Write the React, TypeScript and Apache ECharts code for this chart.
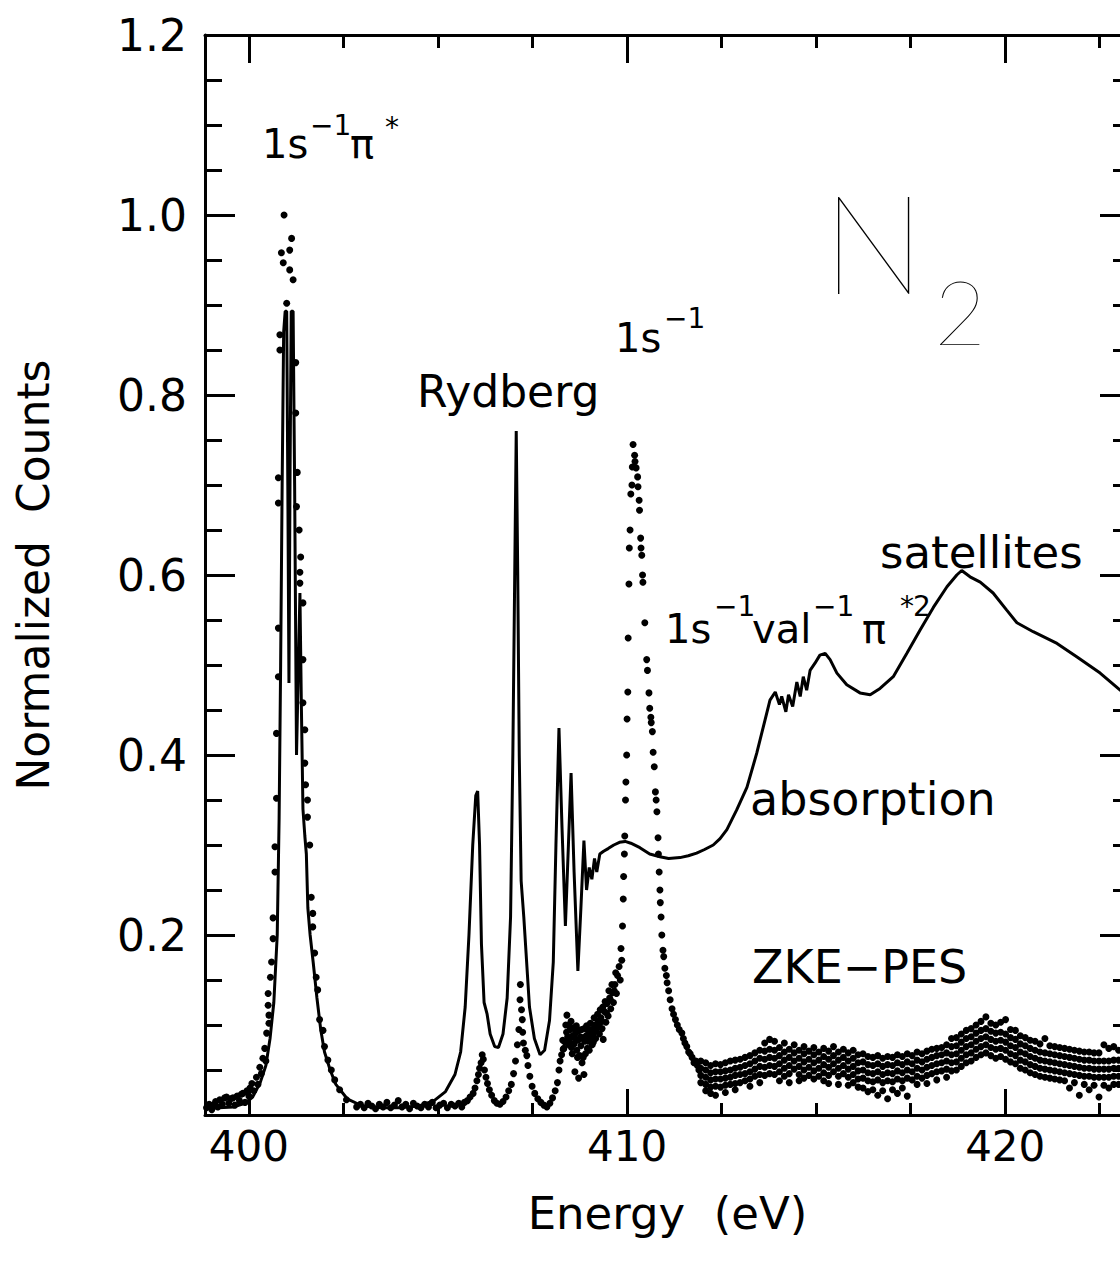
import React, { useEffect, useRef } from 'react';
import * as echarts from 'echarts';

const FONT = '"DejaVu Sans", "Liberation Sans", sans-serif';

// Axis ranges / ticks
const X_MIN = 398.84;
const X_MAX = 423.3;
const xMajorTicks = [400, 410, 420];
const xMinorTicks = [402.5, 405, 407.5, 412.5, 415, 417.5, 422.5];
const Y_MIN = 0;
const Y_MAX = 1.2;
const Y_STEP = 0.2;

// Absorption spectrum (solid line): [energy eV, normalized counts]
const absorption: [number, number][] = [
  [398.84, 0.007], [399.2, 0.008], [399.6, 0.009], [399.9, 0.013], [400.1, 0.02], [400.3, 0.036],
  [400.45, 0.055], [400.56, 0.085], [400.66, 0.125], [400.75, 0.2], [400.8, 0.33], [400.84, 0.5],
  [400.88, 0.7], [400.92, 0.87], [400.96, 0.893], [401.0, 0.893], [401.03, 0.7], [401.06, 0.48],
  [401.09, 0.72], [401.12, 0.893], [401.17, 0.893], [401.21, 0.7], [401.26, 0.4], [401.3, 0.48],
  [401.35, 0.58], [401.39, 0.45], [401.43, 0.34], [401.48, 0.31], [401.52, 0.29], [401.56, 0.23],
  [401.62, 0.2], [401.7, 0.17], [401.8, 0.13], [401.9, 0.095], [402.0, 0.07], [402.15, 0.05],
  [402.3, 0.034], [402.6, 0.018], [403.0, 0.01], [403.5, 0.008], [404.0, 0.008], [404.5, 0.01],
  [404.9, 0.016], [405.2, 0.026], [405.45, 0.045], [405.6, 0.07], [405.72, 0.12], [405.82, 0.2],
  [405.92, 0.3], [406.0, 0.355], [406.05, 0.36], [406.1, 0.3], [406.15, 0.19], [406.22, 0.125],
  [406.3, 0.112], [406.38, 0.09], [406.5, 0.076], [406.6, 0.075], [406.72, 0.09], [406.83, 0.13],
  [406.92, 0.22], [406.98, 0.4], [407.03, 0.6], [407.07, 0.76], [407.11, 0.6], [407.15, 0.4],
  [407.2, 0.26], [407.27, 0.22], [407.33, 0.18], [407.42, 0.12], [407.55, 0.085], [407.7, 0.067],
  [407.82, 0.072], [407.95, 0.105], [408.05, 0.17], [408.12, 0.3], [408.2, 0.43], [408.28, 0.32],
  [408.37, 0.21], [408.45, 0.3], [408.52, 0.38], [408.6, 0.27], [408.7, 0.16], [408.78, 0.23],
  [408.86, 0.305], [408.93, 0.25], [409.0, 0.275], [409.07, 0.262], [409.14, 0.285], [409.2, 0.27],
  [409.28, 0.29], [409.38, 0.293], [409.5, 0.296], [409.65, 0.3], [409.8, 0.303], [409.95, 0.304],
  [410.1, 0.302], [410.34, 0.297], [410.6, 0.29], [410.87, 0.287], [411.1, 0.285], [411.4, 0.286],
  [411.62, 0.288], [411.84, 0.291], [412.05, 0.295], [412.28, 0.3], [412.46, 0.307], [412.64, 0.317],
  [412.9, 0.339], [413.17, 0.364], [413.43, 0.402], [413.65, 0.439], [413.78, 0.461], [413.92, 0.47],
  [414.03, 0.456], [414.09, 0.465], [414.2, 0.448], [414.27, 0.467], [414.38, 0.454], [414.49, 0.481],
  [414.58, 0.465], [414.66, 0.487], [414.75, 0.472], [414.84, 0.494], [414.97, 0.502], [415.1, 0.511],
  [415.24, 0.513], [415.37, 0.506], [415.55, 0.491], [415.81, 0.478], [416.16, 0.469], [416.43, 0.467],
  [416.69, 0.474], [417.04, 0.487], [417.4, 0.513], [417.75, 0.539], [418.1, 0.564], [418.46, 0.587],
  [418.72, 0.6], [418.85, 0.605], [419.07, 0.598], [419.34, 0.592], [419.68, 0.58], [420.04, 0.561],
  [420.31, 0.547], [420.74, 0.537], [421.37, 0.524], [421.9, 0.509], [422.51, 0.491], [423.04, 0.472],
  [423.3, 0.466],
];

// ZKE-PES dots
const zkeBaseline1: [number, number][] = [
  [398.88, 0.008], [398.95, 0.012], [399.02, 0.006], [399.05, 0.011], [399.12, 0.015], [399.18, 0.009],
  [399.23, 0.017], [399.3, 0.012], [399.36, 0.019], [399.41, 0.02], [399.47, 0.013], [399.52, 0.018],
  [399.58, 0.019], [399.63, 0.011], [399.69, 0.021], [399.75, 0.016], [399.8, 0.023], [399.84, 0.024],
  [399.9, 0.014], [399.95, 0.027], [400.0, 0.021], [400.03, 0.03],
];
const zkePeak1: [number, number][] = [
  [400.08, 0.035], [400.13, 0.027], [400.2, 0.042], [400.24, 0.034], [400.29, 0.053], [400.33, 0.046],
  [400.37, 0.063], [400.42, 0.074], [400.45, 0.06], [400.47, 0.091], [400.51, 0.135], [400.51, 0.122],
  [400.53, 0.111], [400.53, 0.102], [400.57, 0.153], [400.6, 0.17], [400.64, 0.219], [400.64, 0.196],
  [400.69, 0.298], [400.69, 0.27], [400.73, 0.424], [400.73, 0.352], [400.78, 0.541], [400.78, 0.487],
  [400.78, 0.708], [400.78, 0.68], [400.82, 0.867], [400.82, 0.85], [400.86, 0.958], [400.91, 0.947],
  [400.93, 1.0], [401.0, 0.902], [401.08, 0.961], [401.08, 0.939], [401.13, 0.974], [401.17, 0.928],
  [401.24, 0.836], [401.24, 0.78], [401.26, 0.676], [401.28, 0.714], [401.33, 0.65], [401.37, 0.62],
  [401.35, 0.603], [401.35, 0.591], [401.43, 0.569], [401.43, 0.506], [401.43, 0.458], [401.48, 0.428],
  [401.48, 0.391], [401.5, 0.367], [401.55, 0.35], [401.55, 0.331], [401.61, 0.3], [401.65, 0.242],
  [401.69, 0.224], [401.69, 0.209], [401.74, 0.18], [401.78, 0.153], [401.82, 0.139], [401.87, 0.106],
  [401.96, 0.094], [402.0, 0.076], [402.09, 0.061], [402.18, 0.05], [402.27, 0.039], [402.4, 0.028],
  [402.58, 0.017], [402.85, 0.009],
];
const zkeBaseline2: [number, number][] = [
  [402.95, 0.012], [403.05, 0.008], [403.15, 0.013], [403.25, 0.01], [403.35, 0.007], [403.45, 0.012],
  [403.55, 0.009], [403.65, 0.014], [403.75, 0.008], [403.85, 0.011], [403.95, 0.016], [404.05, 0.009],
  [404.15, 0.012], [404.25, 0.007], [404.35, 0.013], [404.45, 0.01], [404.55, 0.008], [404.65, 0.012],
  [404.75, 0.009], [404.85, 0.014], [404.95, 0.008], [405.05, 0.011], [405.15, 0.013], [405.25, 0.008],
  [405.35, 0.012], [405.45, 0.01], [405.55, 0.013], [405.63, 0.009], [405.7, 0.014],
];
const zkeRydberg: [number, number][] = [
  [405.78, 0.016], [405.85, 0.02], [405.93, 0.024], [405.98, 0.03], [406.03, 0.038], [406.07, 0.045],
  [406.1, 0.052], [406.14, 0.058], [406.17, 0.067], [406.2, 0.062], [406.23, 0.05], [406.27, 0.042],
  [406.31, 0.035], [406.36, 0.028], [406.42, 0.022], [406.49, 0.016], [406.56, 0.013], [406.64, 0.012],
  [406.72, 0.015], [406.8, 0.02], [406.87, 0.027], [406.94, 0.034], [407.0, 0.046], [407.05, 0.06],
  [407.1, 0.078], [407.14, 0.095], [407.17, 0.128], [407.18, 0.145], [407.21, 0.117], [407.23, 0.106],
  [407.24, 0.092], [407.26, 0.08], [407.31, 0.072], [407.35, 0.066], [407.38, 0.055], [407.43, 0.043],
  [407.49, 0.032], [407.56, 0.024], [407.64, 0.018], [407.72, 0.014], [407.8, 0.011], [407.88, 0.009],
  [407.96, 0.013], [408.03, 0.019], [408.1, 0.027], [408.16, 0.036], [408.2, 0.05], [408.23, 0.06],
  [408.27, 0.067], [408.31, 0.073], [408.36, 0.081], [408.4, 0.092], [408.41, 0.111], [408.45, 0.1],
  [408.48, 0.084], [408.5, 0.095], [408.53, 0.075], [408.56, 0.088], [408.6, 0.079], [408.62, 0.048],
  [408.64, 0.091], [408.67, 0.072], [408.7, 0.083], [408.72, 0.041], [408.75, 0.066], [408.78, 0.077],
  [408.81, 0.058], [408.84, 0.064], [408.86, 0.045], [408.88, 0.082], [408.92, 0.088], [408.95, 0.074],
  [408.98, 0.093], [409.02, 0.085], [409.05, 0.095], [409.08, 0.078], [409.1, 0.09], [409.14, 0.1],
  [409.17, 0.085], [409.2, 0.097], [409.24, 0.104], [409.27, 0.09], [409.31, 0.108], [409.34, 0.096],
  [409.37, 0.084], [409.4, 0.115], [409.44, 0.103], [409.47, 0.124], [409.5, 0.11], [409.54, 0.13],
  [409.57, 0.118], [409.61, 0.136], [409.64, 0.125], [409.68, 0.145], [409.72, 0.135], [409.75, 0.155],
  [409.79, 0.165], [409.82, 0.15], [409.84, 0.185], [409.86, 0.172], [409.88, 0.21], [409.9, 0.24],
  [409.91, 0.265],
];
const zkeRydbergBand: [number, number][] = [
  [408.3, 0.083], [408.33, 0.074], [408.38, 0.1], [408.43, 0.087], [408.46, 0.078], [408.52, 0.104],
  [408.55, 0.068], [408.58, 0.097], [408.61, 0.086], [408.66, 0.099], [408.69, 0.064], [408.73, 0.094],
  [408.77, 0.087], [408.8, 0.095], [408.83, 0.085], [408.87, 0.096], [408.9, 0.068], [408.93, 0.099],
  [408.97, 0.082], [409.0, 0.072], [409.03, 0.102], [409.07, 0.088], [409.11, 0.081], [409.13, 0.108],
  [409.18, 0.094], [409.22, 0.112], [409.26, 0.098], [409.29, 0.117], [409.33, 0.104], [409.36, 0.12],
  [409.42, 0.126], [409.46, 0.113], [409.52, 0.138], [409.56, 0.128], [409.6, 0.145], [409.66, 0.138],
  [409.7, 0.158],
];
const zkePeak2: [number, number][] = [
  [409.93, 0.29], [409.94, 0.31], [409.96, 0.35], [409.97, 0.37], [409.99, 0.4], [410.0, 0.44],
  [410.02, 0.47], [410.03, 0.53], [410.05, 0.59], [410.06, 0.63], [410.08, 0.65], [410.1, 0.69],
  [410.13, 0.7], [410.14, 0.72], [410.16, 0.745], [410.2, 0.733], [410.21, 0.726], [410.24, 0.719],
  [410.28, 0.709], [410.29, 0.698], [410.32, 0.683], [410.33, 0.672], [410.36, 0.641], [410.37, 0.63],
  [410.39, 0.622], [410.41, 0.6], [410.42, 0.592], [410.47, 0.547], [410.52, 0.506], [410.54, 0.494],
  [410.58, 0.469], [410.6, 0.452], [410.63, 0.442], [410.64, 0.436], [410.67, 0.426], [410.69, 0.403],
  [410.72, 0.387], [410.75, 0.359], [410.77, 0.35], [410.79, 0.337], [410.82, 0.308], [410.83, 0.29],
  [410.85, 0.27], [410.87, 0.25], [410.88, 0.236], [410.9, 0.22], [410.92, 0.2], [410.95, 0.183],
  [410.97, 0.176], [411.0, 0.163], [411.04, 0.155], [411.06, 0.147], [411.1, 0.138], [411.14, 0.128],
  [411.19, 0.118], [411.23, 0.112], [411.28, 0.106], [411.33, 0.1], [411.38, 0.095], [411.45, 0.091],
  [411.49, 0.085], [411.53, 0.08], [411.58, 0.076], [411.63, 0.07], [411.67, 0.068], [411.72, 0.064],
  [411.77, 0.058], [411.82, 0.06], [411.86, 0.055], [411.9, 0.05],
];
// Tail band: [energy, repeated readings at that energy]
const zkeTail: number[][] = [
  [411.95, 0.06, 0.052, 0.044, 0.036], [412.08, 0.058, 0.05, 0.042, 0.034, 0.027],
  [412.21, 0.055, 0.047, 0.039, 0.031, 0.024], [412.34, 0.057, 0.048, 0.04, 0.032, 0.022],
  [412.47, 0.056, 0.048, 0.04, 0.031], [412.6, 0.058, 0.049, 0.041, 0.033, 0.025],
  [412.73, 0.06, 0.05, 0.042, 0.034], [412.86, 0.061, 0.052, 0.044, 0.035, 0.028],
  [412.99, 0.062, 0.053, 0.045, 0.036], [413.12, 0.064, 0.055, 0.046, 0.038],
  [413.25, 0.066, 0.057, 0.048, 0.04, 0.032], [413.38, 0.069, 0.06, 0.051, 0.043],
  [413.51, 0.072, 0.063, 0.054, 0.045, 0.036], [413.64, 0.08, 0.071, 0.062, 0.053, 0.044],
  [413.77, 0.084, 0.073, 0.064, 0.055, 0.046], [413.9, 0.082, 0.072, 0.063, 0.054, 0.045],
  [414.03, 0.075, 0.066, 0.057, 0.048, 0.038], [414.16, 0.08, 0.07, 0.061, 0.052, 0.043],
  [414.29, 0.073, 0.064, 0.055, 0.046, 0.036], [414.42, 0.078, 0.069, 0.06, 0.051],
  [414.55, 0.072, 0.063, 0.054, 0.045, 0.038], [414.68, 0.076, 0.068, 0.059, 0.05, 0.041],
  [414.81, 0.071, 0.062, 0.053, 0.044], [414.94, 0.075, 0.067, 0.058, 0.049, 0.04],
  [415.07, 0.07, 0.061, 0.052, 0.043], [415.2, 0.074, 0.065, 0.056, 0.047, 0.038],
  [415.33, 0.071, 0.062, 0.053, 0.044, 0.035], [415.46, 0.076, 0.066, 0.057, 0.048],
  [415.59, 0.07, 0.061, 0.052, 0.043, 0.034], [415.72, 0.073, 0.064, 0.055, 0.046],
  [415.85, 0.069, 0.06, 0.051, 0.042, 0.033], [415.98, 0.072, 0.063, 0.054, 0.045, 0.036],
  [416.11, 0.067, 0.058, 0.049, 0.04, 0.031], [416.24, 0.068, 0.059, 0.05, 0.041, 0.03],
  [416.37, 0.065, 0.056, 0.047, 0.038, 0.026], [416.5, 0.064, 0.055, 0.046, 0.037, 0.028],
  [416.63, 0.066, 0.057, 0.048, 0.039, 0.022], [416.76, 0.063, 0.054, 0.045, 0.036, 0.027],
  [416.89, 0.065, 0.056, 0.047, 0.038, 0.018], [417.02, 0.064, 0.055, 0.046, 0.037, 0.028],
  [417.15, 0.067, 0.058, 0.049, 0.04, 0.024], [417.28, 0.065, 0.056, 0.047, 0.038, 0.03],
  [417.41, 0.068, 0.059, 0.05, 0.041, 0.021], [417.54, 0.066, 0.057, 0.048, 0.039],
  [417.67, 0.07, 0.061, 0.052, 0.043, 0.034], [417.8, 0.068, 0.059, 0.05, 0.041],
  [417.93, 0.071, 0.062, 0.053, 0.044, 0.035], [418.06, 0.073, 0.064, 0.055, 0.046],
  [418.19, 0.074, 0.066, 0.057, 0.048, 0.039], [418.32, 0.075, 0.067, 0.058, 0.049],
  [418.45, 0.078, 0.069, 0.06, 0.051, 0.042], [418.58, 0.085, 0.076, 0.067, 0.058, 0.049],
  [418.71, 0.086, 0.077, 0.068, 0.059, 0.05], [418.84, 0.09, 0.081, 0.072, 0.063, 0.054],
  [418.97, 0.094, 0.085, 0.076, 0.067, 0.058], [419.1, 0.096, 0.087, 0.078, 0.069, 0.06],
  [419.23, 0.1, 0.091, 0.082, 0.073, 0.064], [419.36, 0.104, 0.094, 0.085, 0.076, 0.067],
  [419.49, 0.109, 0.096, 0.087, 0.078, 0.069], [419.62, 0.102, 0.093, 0.084, 0.075, 0.066],
  [419.75, 0.1, 0.091, 0.082, 0.073, 0.063], [419.88, 0.103, 0.092, 0.083, 0.074, 0.065],
  [420.01, 0.106, 0.09, 0.081, 0.072, 0.062], [420.14, 0.095, 0.086, 0.077, 0.068, 0.059],
  [420.27, 0.094, 0.084, 0.075, 0.066, 0.057], [420.4, 0.088, 0.079, 0.07, 0.061, 0.052],
  [420.53, 0.086, 0.077, 0.068, 0.059, 0.05], [420.66, 0.083, 0.074, 0.065, 0.056, 0.047],
  [420.79, 0.082, 0.072, 0.063, 0.054, 0.045], [420.92, 0.079, 0.07, 0.061, 0.052, 0.043],
  [421.05, 0.085, 0.069, 0.06, 0.051, 0.042], [421.18, 0.077, 0.068, 0.059, 0.05, 0.041],
  [421.31, 0.076, 0.067, 0.058, 0.049, 0.04], [421.44, 0.075, 0.066, 0.057, 0.048, 0.039],
  [421.57, 0.074, 0.065, 0.056, 0.047, 0.038], [421.7, 0.073, 0.064, 0.055, 0.046, 0.03],
  [421.83, 0.072, 0.063, 0.054, 0.045, 0.036], [421.96, 0.071, 0.062, 0.053, 0.044, 0.022],
  [422.09, 0.07, 0.061, 0.052, 0.043, 0.034], [422.22, 0.07, 0.061, 0.052, 0.043, 0.028],
  [422.35, 0.069, 0.06, 0.051, 0.042, 0.033], [422.48, 0.069, 0.06, 0.051, 0.042, 0.02],
  [422.61, 0.078, 0.06, 0.051, 0.042, 0.033], [422.74, 0.074, 0.06, 0.051, 0.042, 0.03],
  [422.87, 0.076, 0.061, 0.052, 0.043, 0.034], [423.0, 0.072, 0.061, 0.052, 0.043, 0.034],
  [423.13, 0.07, 0.062, 0.053, 0.044, 0.035],
];

type Tok = { t: string; x: number; y: number; s: number; w?: number; fam?: string };
const annotations: Tok[] = [
  { t: '1s', x: 262, y: 144, s: 40 },
  { t: '\u22121', x: 310, y: 125, s: 28 },
  { t: '\u03c0', x: 350, y: 144, s: 40 },
  { t: '*', x: 385, y: 127, s: 28 },
  { t: 'N', x: 822, y: 240, s: 138, w: 200, fam: 'Lato, "DejaVu Sans", sans-serif' },
  { t: '2', x: 934, y: 310, s: 90, w: 200, fam: 'Lato, "DejaVu Sans", sans-serif' },
  { t: 'Rydberg', x: 417, y: 391, s: 44 },
  { t: '1s', x: 615, y: 338, s: 40 },
  { t: '\u22121', x: 664, y: 318, s: 28 },
  { t: '1s', x: 665, y: 629, s: 40 },
  { t: '\u22121', x: 714, y: 606, s: 28 },
  { t: 'val', x: 752, y: 629, s: 40 },
  { t: '\u22121', x: 813, y: 606, s: 28 },
  { t: '\u03c0', x: 862, y: 629, s: 40 },
  { t: '*', x: 900, y: 606, s: 28 },
  { t: '2', x: 913, y: 606, s: 28 },
  { t: 'satellites', x: 880, y: 552, s: 45 },
  { t: 'absorption', x: 750, y: 799, s: 46 },
  { t: 'ZKE\u2212PES', x: 752, y: 967, s: 46 },
];

export default function App() {
  const ref = useRef<HTMLDivElement>(null);
  useEffect(() => {
    if (!ref.current) return;
    const chart = echarts.init(ref.current, undefined, { renderer: 'svg' });
    const black = '#000';
    const zkeAll: [number, number][] = [
      ...zkeBaseline1, ...zkePeak1, ...zkeBaseline2, ...zkeRydberg, ...zkeRydbergBand, ...zkePeak2,
      ...zkeTail.flatMap(([e, ...vs]) => vs.map((v) => [e, v] as [number, number])),
    ];
    const tickStyle = { color: black, width: 3 };
    const xBase = { type: 'value' as const, min: X_MIN, max: X_MAX, splitLine: { show: false } };
    const yBase = {
      type: 'value' as const, min: Y_MIN, max: Y_MAX, interval: Y_STEP, splitLine: { show: false },
      axisLine: { show: true, lineStyle: { color: black, width: 3 } },
      axisTick: { show: true, inside: true, length: 30, lineStyle: tickStyle },
      minorTick: { show: true, splitNumber: 4, length: 17, lineStyle: tickStyle },
    };
    chart.setOption({
      animation: false,
      backgroundColor: '#fff',
      grid: { left: 205, top: 35, right: 0, bottom: 151, containLabel: false },
      xAxis: [
        {
          ...xBase, position: 'bottom',
          axisLine: { show: true, onZero: false, lineStyle: { color: black, width: 3 } },
          axisTick: { show: true, inside: true, length: 26, lineStyle: tickStyle, customValues: xMajorTicks },
          axisLabel: { show: true, customValues: xMajorTicks, fontSize: 42, fontFamily: FONT, color: black, margin: 10 },
          name: 'Energy  (eV)', nameLocation: 'middle', nameGap: 76,
          nameTextStyle: { fontSize: 45, fontFamily: FONT, color: black },
        },
        {
          ...xBase, position: 'bottom',
          axisLine: { show: false, onZero: false },
          axisTick: { show: true, inside: true, length: 12, lineStyle: tickStyle, customValues: xMinorTicks },
          axisLabel: { show: false },
        },
        {
          ...xBase, position: 'top',
          axisLine: { show: true, onZero: false, lineStyle: { color: black, width: 3 } },
          axisTick: { show: true, inside: true, length: 28, lineStyle: tickStyle, customValues: xMajorTicks },
          axisLabel: { show: false },
        },
        {
          ...xBase, position: 'top',
          axisLine: { show: false, onZero: false },
          axisTick: { show: true, inside: true, length: 13, lineStyle: tickStyle, customValues: xMinorTicks },
          axisLabel: { show: false },
        },
      ],
      yAxis: [
        {
          ...yBase, position: 'left',
          axisLabel: {
            show: true, fontSize: 44, fontFamily: FONT, color: black, margin: 18,
            formatter: (v: number) => (v === 0 ? '' : v.toFixed(1)),
          },
          name: 'Normalized  Counts', nameLocation: 'middle', nameGap: 150, nameRotate: 90,
          nameTextStyle: { fontSize: 44, fontFamily: FONT, color: black },
        },
        { ...yBase, position: 'right', axisLabel: { show: false } },
      ],
      series: [
        {
          name: 'absorption', type: 'line', data: absorption, xAxisIndex: 0, yAxisIndex: 0,
          showSymbol: false, symbol: 'none', smooth: false, clip: true,
          lineStyle: { color: black, width: 3 }, z: 2,
        },
        {
          name: 'ZKE-PES', type: 'scatter', data: zkeAll, xAxisIndex: 0, yAxisIndex: 0,
          symbol: 'circle', symbolSize: 7, itemStyle: { color: black, opacity: 1 }, clip: true, z: 3,
        },
      ],
      graphic: annotations.map((a) => ({
        type: 'text', x: a.x, y: a.y, silent: true,
        style: {
          text: a.t, fill: black, fontSize: a.s, fontFamily: a.fam ?? FONT, fontWeight: a.w ?? 'normal',
          align: 'left', verticalAlign: 'middle',
        },
      })),
    });
    return () => chart.dispose();
  }, []);
  return <div ref={ref} style={{ position: 'fixed', left: 0, top: 0, width: 1130, height: 1266, background: '#fff' }} />;
}
